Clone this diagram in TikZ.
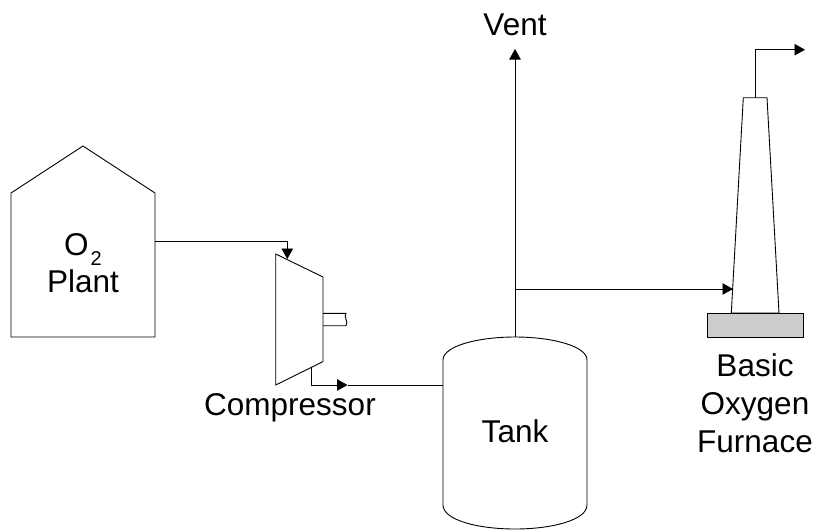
\documentclass[tikz,border=0pt]{standalone}
\usepackage{fontspec}
\setmainfont{Liberation Sans}
\usetikzlibrary{arrows.meta}
\tikzset{
  line/.style={draw=black,line width=0.9pt},
  flow/.style={line,-{Triangle[length=10.5pt,width=11.5pt]},shorten >=0pt},
  lbl/.style={font=\fontsize{31.5pt}{38pt}\selectfont,inner sep=0pt,align=center,text=black}
}
\begin{document}
\begin{tikzpicture}[x=1pt,y=-1pt]
\useasboundingbox (0,0) rectangle (820,531);
% named anchor points
\coordinate (houseOut) at (155,241);
\coordinate (compIn) at (287.3,259);
\coordinate (compOut) at (311.3,367);
\coordinate (compMid) at (347.5,385);
\coordinate (tankIn) at (443,385);
\coordinate (tankTop) at (515,337);
\coordinate (vent) at (515,49);
\coordinate (branch) at (515,289);
\coordinate (bofIn) at (733,289);
\coordinate (bofTop) at (755.3,97.7);
\coordinate (bofOut) at (805,49.7);
% house
\draw[line] (11,193) -- (83,146) -- (155,193) -- (155,337) -- (11,337) -- cycle;
% compressor
\draw[line] (275.7,254) -- (323,277) -- (323,361.6) -- (275.7,385) -- cycle;
\draw[line] (323,313.3) -- (346,313.3) .. controls (343,317) and (349,321) .. (346,325.7) -- (323,325.7);
% tank
\draw[line] (443,360) .. controls (443,346) and (478,337) .. (515,337)
  .. controls (552,337) and (587,346) .. (587,360) -- (587,505)
  .. controls (587,520) and (552,529) .. (515,529)
  .. controls (478,529) and (443,520) .. (443,505) -- cycle;
% furnace
\draw[line] (743.3,97.7) -- (767,97.7) -- (779,313) -- (731.3,313) -- cycle;
\draw[line,fill=black!20] (707.3,313) rectangle (803.7,337.7);
% connectors
\draw[flow] (houseOut) -| (compIn);
\draw[flow] (compOut) |- (compMid);
\draw[line] (compMid) -- (tankIn);
\draw[flow] (tankTop) -- (vent);
\draw[flow] (branch) -- (bofIn);
\draw[flow] (bofTop) |- (bofOut);
% labels
\node[lbl] (plant) at (83,263.5) {O\kern2pt\smash{\raisebox{-10pt}{\fontsize{20pt}{20pt}\selectfont 2}}\\[-1pt]Plant};
\node[lbl,anchor=base] (compressor) at (290,415) {Compressor};
\node[lbl,anchor=base] (tank) at (515,442) {Tank};
\node[lbl,anchor=base] (ventlabel) at (515,35) {Vent};
\node[lbl] (bof) at (755,403) {Basic\\Oxygen\\Furnace};
\end{tikzpicture}
\end{document}
